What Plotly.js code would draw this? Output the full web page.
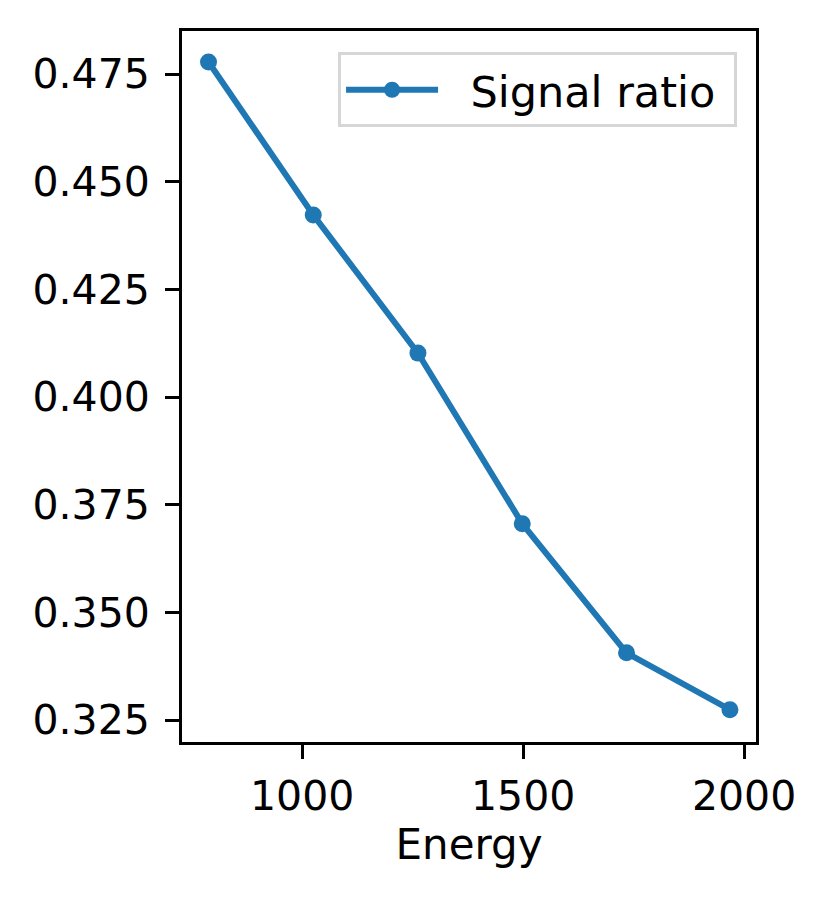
<!DOCTYPE html>
<html>
<head>
<meta charset="utf-8">
<script src="https://cdn.plot.ly/plotly-3.0.1.min.js"></script>
<style>
  html, body { margin: 0; padding: 0; background: #fff; }
  #plot { width: 830px; height: 903px; }
</style>
</head>
<body>
<div id="plot"></div>
<script>
// values
var energy = [788, 1025, 1262, 1498, 1734, 1968];
var signalRatio = [0.4778, 0.4423, 0.4102, 0.3706, 0.3406, 0.3274];
var xTicks = [1000, 1500, 2000];
var yTicks = [0.325, 0.350, 0.375, 0.400, 0.425, 0.450, 0.475];

var trace = {
  x: energy,
  y: signalRatio,
  // non-breaking spaces give the gap between legend sample and text
  name: '\u00a0\u00a0Signal ratio\u00a0',
  type: 'scatter',
  mode: 'lines+markers',
  line: { color: '#1f77b4', width: 6 },
  marker: { color: '#1f77b4', size: 17 }
};

var fnt = { family: 'DejaVu Sans', size: 41, color: '#000' };

var axisStyle = {
  showline: true,
  mirror: true,
  linecolor: '#000',
  linewidth: 3,
  ticks: 'outside',
  ticklen: 14,
  tickwidth: 3,
  tickcolor: '#000',
  showgrid: false,
  zeroline: false,
  tickfont: fnt
};

var layout = {
  width: 830,
  height: 903,
  margin: { l: 182, r: 74, t: 31, b: 161 },
  paper_bgcolor: '#fff',
  plot_bgcolor: '#fff',
  font: { family: 'DejaVu Sans', color: '#000' },
  showlegend: true,
  legend: {
    x: 0.967,
    y: 0.97,
    xanchor: 'right',
    yanchor: 'top',
    bgcolor: 'rgba(255,255,255,0.8)',
    bordercolor: '#d6d6d6',
    borderwidth: 3,
    itemwidth: 92,
    font: { family: 'DejaVu Sans', size: 43, color: '#000' }
  },
  xaxis: Object.assign({}, axisStyle, {
    range: [728, 2027],
    tickvals: xTicks,
    ticktext: xTicks.map(String),
    ticklabelstandoff: 2,
    title: { text: 'Energy', font: { family: 'DejaVu Sans', size: 42, color: '#000' }, standoff: 10 }
  }),
  yaxis: Object.assign({}, axisStyle, {
    range: [0.3199, 0.485],
    tickvals: yTicks,
    ticktext: yTicks.map(function (v) { return v.toFixed(3); }),
    ticklabelstandoff: 7
  })
};

Plotly.newPlot('plot', [trace], layout, { displayModeBar: false, staticPlot: true });
</script>
</body>
</html>
